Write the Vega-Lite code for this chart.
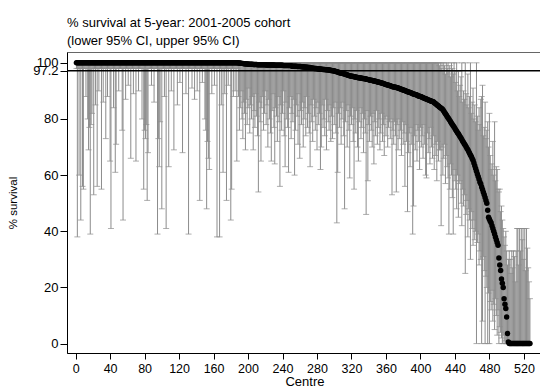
{
"$schema": "https://vega.github.io/schema/vega-lite/v6.json",
"width": 475, "height": 301,
"autosize": "none",
"padding": {"left": 67, "top": 52, "right": 0, "bottom": 35},
"background": "white",
"config": {"font": "Liberation Sans", "view": {"stroke": "#666666", "strokeWidth": 1},
  "axis": {"labelOverlap": false, "labelBound": false, "labelFlush": false, "labelSeparation": 0, "grid": false, "domainColor": "black", "tickColor": "black", "labelColor": "black", "titleColor": "black", "titleFontWeight": "normal"},
  "axisX": {"tickSize": 6, "labelFontSize": 12.5, "labelPadding": 3, "titleFontSize": 13, "titlePadding": 1},
  "axisY": {"tickSize": 7, "labelFontSize": 13, "labelPadding": 2, "titleFontSize": 11.5, "titlePadding": 14}},
"title": {"text": ["% survival at 5-year: 2001-2005 cohort", "(lower 95% CI, upper 95% CI)"], "anchor": "start", "frame": "group", "fontSize": 13, "fontWeight": "normal", "color": "black", "offset": 4, "lineHeight": 18},
"datasets": {
"ref": [{"v": 97.2}],
"centres": [
{"c":1,"e":100,"l":98,"u":100},{"c":2,"e":100,"l":38,"u":100},{"c":3,"e":100,"l":98,"u":100},{"c":4,"e":100,"l":60,"u":100},{"c":5,"e":100,"l":98,"u":100},{"c":6,"e":100,"l":44,"u":100},{"c":7,"e":100,"l":98,"u":100},{"c":8,"e":100,"l":56,"u":100},{"c":9,"e":100,"l":55,"u":100},{"c":10,"e":100,"l":98,"u":100},
{"c":11,"e":100,"l":98,"u":100},{"c":12,"e":100,"l":88,"u":100},{"c":13,"e":100,"l":98,"u":100},{"c":14,"e":100,"l":80,"u":100},{"c":15,"e":100,"l":69,"u":100},{"c":16,"e":100,"l":77,"u":100},{"c":17,"e":100,"l":39,"u":100},{"c":18,"e":100,"l":78,"u":100},{"c":19,"e":100,"l":82,"u":100},{"c":20,"e":100,"l":98,"u":100},
{"c":21,"e":100,"l":53,"u":100},{"c":22,"e":100,"l":98,"u":100},{"c":23,"e":100,"l":85,"u":100},{"c":24,"e":100,"l":98,"u":100},{"c":25,"e":100,"l":56,"u":100},{"c":26,"e":100,"l":98,"u":100},{"c":27,"e":100,"l":90,"u":100},{"c":28,"e":100,"l":98,"u":100},{"c":29,"e":100,"l":98,"u":100},{"c":30,"e":100,"l":55,"u":100},
{"c":31,"e":100,"l":98,"u":100},{"c":32,"e":100,"l":86,"u":100},{"c":33,"e":100,"l":98,"u":100},{"c":34,"e":100,"l":98,"u":100},{"c":35,"e":100,"l":73,"u":100},{"c":36,"e":100,"l":98,"u":100},{"c":37,"e":100,"l":88,"u":100},{"c":38,"e":100,"l":98,"u":100},{"c":39,"e":100,"l":98,"u":100},{"c":40,"e":100,"l":65,"u":100},
{"c":41,"e":100,"l":41,"u":100},{"c":42,"e":100,"l":98,"u":100},{"c":43,"e":100,"l":98,"u":100},{"c":44,"e":100,"l":84,"u":100},{"c":45,"e":100,"l":98,"u":100},{"c":46,"e":100,"l":61,"u":100},{"c":47,"e":100,"l":71,"u":100},{"c":48,"e":100,"l":98,"u":100},{"c":49,"e":100,"l":98,"u":100},{"c":50,"e":100,"l":90,"u":100},
{"c":51,"e":100,"l":98,"u":100},{"c":52,"e":100,"l":98,"u":100},{"c":53,"e":100,"l":98,"u":100},{"c":54,"e":100,"l":76,"u":100},{"c":55,"e":100,"l":44,"u":100},{"c":56,"e":100,"l":98,"u":100},{"c":57,"e":100,"l":98,"u":100},{"c":58,"e":100,"l":87,"u":100},{"c":59,"e":100,"l":98,"u":100},{"c":60,"e":100,"l":98,"u":100},
{"c":61,"e":100,"l":92,"u":100},{"c":62,"e":100,"l":98,"u":100},{"c":63,"e":100,"l":98,"u":100},{"c":64,"e":100,"l":66,"u":100},{"c":65,"e":100,"l":98,"u":100},{"c":66,"e":100,"l":98,"u":100},{"c":67,"e":100,"l":89,"u":100},{"c":68,"e":100,"l":98,"u":100},{"c":69,"e":100,"l":98,"u":100},{"c":70,"e":100,"l":65,"u":100},
{"c":71,"e":100,"l":98,"u":100},{"c":72,"e":100,"l":98,"u":100},{"c":73,"e":100,"l":90,"u":100},{"c":74,"e":100,"l":98,"u":100},{"c":75,"e":100,"l":98,"u":100},{"c":76,"e":100,"l":98,"u":100},{"c":77,"e":100,"l":80,"u":100},{"c":78,"e":100,"l":98,"u":100},{"c":79,"e":100,"l":55,"u":100},{"c":80,"e":100,"l":76,"u":100},
{"c":81,"e":100,"l":73,"u":100},{"c":82,"e":100,"l":78,"u":100},{"c":83,"e":100,"l":51,"u":100},{"c":84,"e":100,"l":68,"u":100},{"c":85,"e":100,"l":98,"u":100},{"c":86,"e":100,"l":98,"u":100},{"c":87,"e":100,"l":98,"u":100},{"c":88,"e":100,"l":92,"u":100},{"c":89,"e":100,"l":98,"u":100},{"c":90,"e":100,"l":98,"u":100},
{"c":91,"e":100,"l":86,"u":100},{"c":92,"e":100,"l":98,"u":100},{"c":93,"e":100,"l":98,"u":100},{"c":94,"e":100,"l":98,"u":100},{"c":95,"e":100,"l":39,"u":100},{"c":96,"e":100,"l":73,"u":100},{"c":97,"e":100,"l":63,"u":100},{"c":98,"e":100,"l":79,"u":100},{"c":99,"e":100,"l":98,"u":100},{"c":100,"e":100,"l":48,"u":100},
{"c":101,"e":100,"l":98,"u":100},{"c":102,"e":100,"l":98,"u":100},{"c":103,"e":100,"l":88,"u":100},{"c":104,"e":100,"l":98,"u":100},{"c":105,"e":100,"l":41,"u":100},{"c":106,"e":100,"l":98,"u":100},{"c":107,"e":100,"l":98,"u":100},{"c":108,"e":100,"l":63,"u":100},{"c":109,"e":100,"l":98,"u":100},{"c":110,"e":100,"l":98,"u":100},
{"c":111,"e":100,"l":90,"u":100},{"c":112,"e":100,"l":98,"u":100},{"c":113,"e":100,"l":98,"u":100},{"c":114,"e":100,"l":69,"u":100},{"c":115,"e":100,"l":98,"u":100},{"c":116,"e":100,"l":98,"u":100},{"c":117,"e":100,"l":98,"u":100},{"c":118,"e":100,"l":85,"u":100},{"c":119,"e":100,"l":98,"u":100},{"c":120,"e":100,"l":98,"u":100},
{"c":121,"e":100,"l":93,"u":100},{"c":122,"e":100,"l":98,"u":100},{"c":123,"e":100,"l":98,"u":100},{"c":124,"e":100,"l":68,"u":100},{"c":125,"e":100,"l":98,"u":100},{"c":126,"e":100,"l":98,"u":100},{"c":127,"e":100,"l":98,"u":100},{"c":128,"e":100,"l":89,"u":100},{"c":129,"e":100,"l":98,"u":100},{"c":130,"e":100,"l":98,"u":100},
{"c":131,"e":100,"l":39,"u":100},{"c":132,"e":100,"l":98,"u":100},{"c":133,"e":100,"l":98,"u":100},{"c":134,"e":100,"l":98,"u":100},{"c":135,"e":100,"l":91,"u":100},{"c":136,"e":100,"l":98,"u":100},{"c":137,"e":100,"l":98,"u":100},{"c":138,"e":100,"l":87,"u":100},{"c":139,"e":100,"l":98,"u":100},{"c":140,"e":100,"l":98,"u":100},
{"c":141,"e":100,"l":90,"u":100},{"c":142,"e":100,"l":98,"u":100},{"c":143,"e":100,"l":98,"u":100},{"c":144,"e":100,"l":51,"u":100},{"c":145,"e":100,"l":98,"u":100},{"c":146,"e":100,"l":98,"u":100},{"c":147,"e":100,"l":93,"u":100},{"c":148,"e":100,"l":98,"u":100},{"c":149,"e":100,"l":98,"u":100},{"c":150,"e":100,"l":80,"u":100},
{"c":151,"e":100,"l":76,"u":100},{"c":152,"e":100,"l":48,"u":100},{"c":153,"e":100,"l":72,"u":100},{"c":154,"e":100,"l":66,"u":100},{"c":155,"e":100,"l":62,"u":100},{"c":156,"e":100,"l":98,"u":100},{"c":157,"e":100,"l":98,"u":100},{"c":158,"e":100,"l":89,"u":100},{"c":159,"e":100,"l":98,"u":100},{"c":160,"e":100,"l":98,"u":100},
{"c":161,"e":100,"l":92,"u":100},{"c":162,"e":100,"l":98,"u":100},{"c":163,"e":100,"l":98,"u":100},{"c":164,"e":100,"l":38,"u":100},{"c":165,"e":100,"l":98,"u":100},{"c":166,"e":100,"l":98,"u":100},{"c":167,"e":100,"l":38,"u":100},{"c":168,"e":100,"l":98,"u":100},{"c":169,"e":100,"l":85,"u":100},{"c":170,"e":100,"l":98,"u":100},
{"c":171,"e":100,"l":61,"u":100},{"c":172,"e":100,"l":98,"u":100},{"c":173,"e":100,"l":89,"u":100},{"c":174,"e":100,"l":98,"u":100},{"c":175,"e":100,"l":51,"u":100},{"c":176,"e":100,"l":98,"u":100},{"c":177,"e":100,"l":92,"u":100},{"c":178,"e":100,"l":98,"u":100},{"c":179,"e":100,"l":98,"u":100},{"c":180,"e":100,"l":44,"u":100},
{"c":181,"e":100,"l":55,"u":100},{"c":182,"e":100,"l":98,"u":100},{"c":183,"e":100,"l":88,"u":100},{"c":184,"e":100,"l":98,"u":100},{"c":185,"e":100,"l":90,"u":100},{"c":186,"e":100,"l":98,"u":100},{"c":187,"e":100,"l":65,"u":100},{"c":188,"e":100,"l":98,"u":100},
{"c":189,"e":99.9,"l":88,"u":100},{"c":190,"e":99.9,"l":76,"u":100},{"c":191,"e":99.9,"l":84,"u":100},{"c":192,"e":99.8,"l":90,"u":100},{"c":193,"e":99.8,"l":80,"u":100},{"c":194,"e":99.8,"l":73,"u":100},{"c":195,"e":99.7,"l":86,"u":100},{"c":196,"e":99.7,"l":82,"u":100},{"c":197,"e":99.7,"l":69,"u":100},{"c":198,"e":99.6,"l":87,"u":100},{"c":199,"e":99.6,"l":78,"u":100},{"c":200,"e":99.6,"l":84,"u":100},
{"c":201,"e":99.5,"l":91,"u":100},{"c":202,"e":99.5,"l":75,"u":100},{"c":203,"e":99.5,"l":85,"u":100},{"c":204,"e":99.5,"l":80,"u":100},{"c":205,"e":99.5,"l":88,"u":100},{"c":206,"e":99.4,"l":69,"u":100},{"c":207,"e":99.4,"l":83,"u":100},{"c":208,"e":99.4,"l":77,"u":100},{"c":209,"e":99.4,"l":89,"u":100},{"c":210,"e":99.4,"l":81,"u":100},
{"c":211,"e":99.3,"l":74,"u":100},{"c":212,"e":99.3,"l":54,"u":100},{"c":213,"e":99.3,"l":86,"u":100},{"c":214,"e":99.3,"l":79,"u":100},{"c":215,"e":99.3,"l":65,"u":100},{"c":216,"e":99.3,"l":84,"u":100},{"c":217,"e":99.3,"l":88,"u":100},{"c":218,"e":99.3,"l":76,"u":100},{"c":219,"e":99.3,"l":82,"u":100},{"c":220,"e":99.3,"l":90,"u":100},
{"c":221,"e":99.2,"l":78,"u":100},{"c":222,"e":99.2,"l":85,"u":100},{"c":223,"e":99.2,"l":70,"u":100},{"c":224,"e":99.2,"l":87,"u":100},{"c":225,"e":99.2,"l":80,"u":100},{"c":226,"e":99.2,"l":75,"u":100},{"c":227,"e":99.2,"l":65,"u":100},{"c":228,"e":99.2,"l":83,"u":100},{"c":229,"e":99.2,"l":89,"u":100},{"c":230,"e":99.2,"l":77,"u":100},
{"c":231,"e":99.1,"l":64,"u":100},{"c":232,"e":99.1,"l":84,"u":100},{"c":233,"e":99.1,"l":81,"u":100},{"c":234,"e":99.1,"l":72,"u":100},{"c":235,"e":99.1,"l":88,"u":100},{"c":236,"e":99.1,"l":79,"u":100},{"c":237,"e":99.1,"l":56,"u":100},{"c":238,"e":99.1,"l":85,"u":100},{"c":239,"e":99.1,"l":76,"u":100},{"c":240,"e":99.1,"l":82,"u":100},
{"c":241,"e":99.0,"l":90,"u":100},{"c":242,"e":99.0,"l":74,"u":100},{"c":243,"e":99.0,"l":63,"u":100},{"c":244,"e":99.0,"l":86,"u":100},{"c":245,"e":99.0,"l":80,"u":100},{"c":246,"e":99.0,"l":77,"u":100},{"c":247,"e":99.0,"l":61,"u":100},{"c":248,"e":99.0,"l":84,"u":100},{"c":249,"e":99.0,"l":88,"u":100},{"c":250,"e":99.0,"l":73,"u":100},
{"c":251,"e":98.8,"l":82,"u":100},{"c":252,"e":98.8,"l":79,"u":100},{"c":253,"e":98.8,"l":87,"u":100},{"c":254,"e":98.8,"l":60,"u":100},{"c":255,"e":98.8,"l":76,"u":100},{"c":256,"e":98.8,"l":85,"u":100},{"c":257,"e":98.7,"l":81,"u":100},{"c":258,"e":98.7,"l":71,"u":100},{"c":259,"e":98.7,"l":89,"u":100},{"c":260,"e":98.7,"l":66,"u":100},
{"c":261,"e":98.7,"l":83,"u":100},{"c":262,"e":98.6,"l":78,"u":100},{"c":263,"e":98.6,"l":86,"u":100},{"c":264,"e":98.5,"l":70,"u":100},{"c":265,"e":98.5,"l":80,"u":100},{"c":266,"e":98.5,"l":84,"u":100},{"c":267,"e":98.4,"l":74,"u":100},{"c":268,"e":98.4,"l":88,"u":100},{"c":269,"e":98.4,"l":77,"u":100},{"c":270,"e":98.3,"l":82,"u":100},
{"c":271,"e":98.3,"l":75,"u":100},{"c":272,"e":98.3,"l":63,"u":100},{"c":273,"e":98.2,"l":85,"u":100},{"c":274,"e":98.2,"l":79,"u":100},{"c":275,"e":98.1,"l":72,"u":100},{"c":276,"e":98.1,"l":87,"u":100},{"c":277,"e":98.0,"l":81,"u":100},{"c":278,"e":98.0,"l":76,"u":100},{"c":279,"e":98.0,"l":84,"u":100},{"c":280,"e":97.9,"l":69,"u":100},
{"c":281,"e":97.9,"l":86,"u":100},{"c":282,"e":97.8,"l":78,"u":100},{"c":283,"e":97.8,"l":82,"u":100},{"c":284,"e":97.8,"l":62,"u":100},{"c":285,"e":97.7,"l":70,"u":100},{"c":286,"e":97.7,"l":85,"u":100},{"c":287,"e":97.6,"l":77,"u":100},{"c":288,"e":97.6,"l":80,"u":100},{"c":289,"e":97.6,"l":74,"u":100},{"c":290,"e":97.5,"l":87,"u":100},
{"c":291,"e":97.5,"l":69,"u":100},{"c":292,"e":97.5,"l":83,"u":100},{"c":293,"e":97.4,"l":79,"u":100},{"c":294,"e":97.4,"l":76,"u":100},{"c":295,"e":97.4,"l":85,"u":100},{"c":296,"e":97.3,"l":72,"u":100},{"c":297,"e":97.3,"l":81,"u":100},{"c":298,"e":97.2,"l":73,"u":100},{"c":299,"e":97.2,"l":84,"u":100},{"c":300,"e":97.1,"l":78,"u":100},
{"c":301,"e":97.0,"l":86,"u":100},{"c":302,"e":96.9,"l":75,"u":100},{"c":303,"e":96.8,"l":43,"u":100},{"c":304,"e":96.7,"l":61,"u":100},{"c":305,"e":96.6,"l":82,"u":100},{"c":306,"e":96.5,"l":77,"u":100},{"c":307,"e":96.4,"l":84,"u":100},{"c":308,"e":96.4,"l":71,"u":100},{"c":309,"e":96.3,"l":80,"u":100},{"c":310,"e":96.2,"l":86,"u":100},
{"c":311,"e":96.1,"l":74,"u":100},{"c":312,"e":96.0,"l":48,"u":100},{"c":313,"e":95.9,"l":79,"u":100},{"c":314,"e":95.8,"l":83,"u":100},{"c":315,"e":95.7,"l":70,"u":100},{"c":316,"e":95.6,"l":85,"u":100},{"c":317,"e":95.5,"l":76,"u":100},{"c":318,"e":95.4,"l":59,"u":100},{"c":319,"e":95.3,"l":81,"u":100},{"c":320,"e":95.2,"l":78,"u":100},
{"c":321,"e":95.2,"l":84,"u":100},{"c":322,"e":95.1,"l":72,"u":100},{"c":323,"e":95.0,"l":55,"u":100},{"c":324,"e":95.0,"l":80,"u":100},{"c":325,"e":94.9,"l":75,"u":100},{"c":326,"e":94.9,"l":83,"u":100},{"c":327,"e":94.8,"l":70,"u":100},{"c":328,"e":94.7,"l":65,"u":100},{"c":329,"e":94.7,"l":79,"u":100},{"c":330,"e":94.6,"l":84,"u":100},
{"c":331,"e":94.6,"l":73,"u":100},{"c":332,"e":94.5,"l":77,"u":100},{"c":333,"e":94.4,"l":82,"u":100},{"c":334,"e":94.4,"l":68,"u":100},{"c":335,"e":94.3,"l":80,"u":100},{"c":336,"e":94.3,"l":75,"u":100},{"c":337,"e":94.2,"l":46,"u":100},{"c":338,"e":94.1,"l":83,"u":100},{"c":339,"e":94.1,"l":58,"u":100},{"c":340,"e":94.0,"l":78,"u":100},
{"c":341,"e":93.9,"l":72,"u":100},{"c":342,"e":93.8,"l":81,"u":100},{"c":343,"e":93.8,"l":76,"u":100},{"c":344,"e":93.7,"l":70,"u":100},{"c":345,"e":93.6,"l":82,"u":100},{"c":346,"e":93.5,"l":64,"u":100},{"c":347,"e":93.5,"l":79,"u":100},{"c":348,"e":93.4,"l":74,"u":100},{"c":349,"e":93.3,"l":83,"u":100},{"c":350,"e":93.2,"l":71,"u":100},
{"c":351,"e":93.2,"l":77,"u":100},{"c":352,"e":93.1,"l":80,"u":100},{"c":353,"e":93.0,"l":69,"u":100},{"c":354,"e":92.9,"l":75,"u":100},{"c":355,"e":92.8,"l":82,"u":100},{"c":356,"e":92.7,"l":72,"u":100},{"c":357,"e":92.6,"l":78,"u":100},{"c":358,"e":92.5,"l":67,"u":100},{"c":359,"e":92.4,"l":80,"u":100},{"c":360,"e":92.3,"l":74,"u":100},
{"c":361,"e":92.2,"l":81,"u":100},{"c":362,"e":92.1,"l":70,"u":100},{"c":363,"e":92.0,"l":77,"u":100},{"c":364,"e":91.9,"l":79,"u":100},{"c":365,"e":91.8,"l":73,"u":100},{"c":366,"e":91.7,"l":80,"u":100},{"c":367,"e":91.6,"l":53,"u":100},{"c":368,"e":91.5,"l":76,"u":100},{"c":369,"e":91.4,"l":71,"u":100},{"c":370,"e":91.4,"l":79,"u":100},
{"c":371,"e":91.3,"l":74,"u":100},{"c":372,"e":91.2,"l":54,"u":100},{"c":373,"e":91.1,"l":78,"u":100},{"c":374,"e":91.0,"l":69,"u":100},{"c":375,"e":90.9,"l":80,"u":100},{"c":376,"e":90.8,"l":73,"u":100},{"c":377,"e":90.7,"l":76,"u":100},{"c":378,"e":90.6,"l":67,"u":100},{"c":379,"e":90.4,"l":79,"u":100},{"c":380,"e":90.3,"l":71,"u":100},
{"c":381,"e":90.2,"l":75,"u":100},{"c":382,"e":90.1,"l":56,"u":100},{"c":383,"e":90.0,"l":78,"u":100},{"c":384,"e":89.9,"l":72,"u":100},{"c":385,"e":89.7,"l":47,"u":100},{"c":386,"e":89.6,"l":68,"u":100},{"c":387,"e":89.5,"l":75,"u":100},{"c":388,"e":89.4,"l":63,"u":100},{"c":389,"e":89.3,"l":77,"u":100},{"c":390,"e":89.2,"l":71,"u":100},
{"c":391,"e":89.0,"l":39,"u":100},{"c":392,"e":88.9,"l":49,"u":100},{"c":393,"e":88.8,"l":74,"u":100},{"c":394,"e":88.7,"l":69,"u":100},{"c":395,"e":88.6,"l":78,"u":100},{"c":396,"e":88.5,"l":65,"u":100},{"c":397,"e":88.3,"l":76,"u":100},{"c":398,"e":88.2,"l":72,"u":100},{"c":399,"e":88.1,"l":62,"u":100},{"c":400,"e":88.0,"l":77,"u":100},
{"c":401,"e":87.9,"l":70,"u":100},{"c":402,"e":87.7,"l":74,"u":100},{"c":403,"e":87.6,"l":66,"u":100},{"c":404,"e":87.5,"l":78,"u":100},{"c":405,"e":87.3,"l":71,"u":100},{"c":406,"e":87.2,"l":60,"u":100},{"c":407,"e":87.1,"l":59,"u":100},{"c":408,"e":86.9,"l":75,"u":100},{"c":409,"e":86.8,"l":68,"u":100},{"c":410,"e":86.7,"l":73,"u":100},
{"c":411,"e":86.6,"l":64,"u":100},{"c":412,"e":86.4,"l":77,"u":100},{"c":413,"e":86.3,"l":70,"u":100},{"c":414,"e":86.2,"l":66,"u":100},{"c":415,"e":86.1,"l":74,"u":100},{"c":416,"e":85.8,"l":62,"u":100},{"c":417,"e":85.6,"l":71,"u":100},{"c":418,"e":85.3,"l":67,"u":100},{"c":419,"e":85.1,"l":58,"u":100},{"c":420,"e":84.8,"l":72,"u":100},
{"c":421,"e":84.6,"l":65,"u":100},{"c":422,"e":84.3,"l":69,"u":99},{"c":423,"e":84.1,"l":69,"u":100},{"c":424,"e":83.8,"l":42,"u":98},{"c":425,"e":83.6,"l":70,"u":100},{"c":426,"e":83.3,"l":60,"u":97},{"c":427,"e":82.8,"l":66,"u":100},{"c":428,"e":82.3,"l":71,"u":99},{"c":429,"e":81.9,"l":57,"u":96},{"c":430,"e":81.4,"l":67,"u":100},
{"c":431,"e":80.9,"l":63,"u":98},{"c":432,"e":80.4,"l":59,"u":100},{"c":433,"e":80.0,"l":39,"u":97},{"c":434,"e":79.5,"l":55,"u":99},{"c":435,"e":79.0,"l":64,"u":95},{"c":436,"e":78.5,"l":60,"u":100},{"c":437,"e":78.0,"l":52,"u":98},{"c":438,"e":77.6,"l":39,"u":96},{"c":439,"e":77.1,"l":62,"u":100},{"c":440,"e":76.6,"l":58,"u":97},
{"c":441,"e":76.1,"l":55,"u":93},{"c":442,"e":75.6,"l":48,"u":100},{"c":443,"e":75.1,"l":60,"u":90},{"c":444,"e":74.7,"l":45,"u":97},{"c":445,"e":74.2,"l":57,"u":88},{"c":446,"e":73.7,"l":58,"u":92},{"c":447,"e":73.2,"l":50,"u":95},{"c":448,"e":72.7,"l":42,"u":100},{"c":449,"e":72.1,"l":55,"u":86},{"c":450,"e":71.6,"l":49,"u":90},
{"c":451,"e":71.1,"l":53,"u":87},{"c":452,"e":70.6,"l":25,"u":100},{"c":453,"e":70.1,"l":46,"u":89},{"c":454,"e":69.5,"l":51,"u":85},{"c":455,"e":69.0,"l":38,"u":96},{"c":456,"e":68.4,"l":48,"u":84},{"c":457,"e":67.8,"l":44,"u":88},{"c":458,"e":67.2,"l":30,"u":100},{"c":459,"e":66.6,"l":47,"u":82},{"c":460,"e":65.9,"l":41,"u":86},
{"c":461,"e":65.3,"l":35,"u":91},{"c":462,"e":64.3,"l":44,"u":80},{"c":463,"e":63.3,"l":37,"u":85},{"c":464,"e":62.4,"l":40,"u":79},{"c":465,"e":61.4,"l":0,"u":100},{"c":466,"e":60.4,"l":36,"u":81},{"c":467,"e":59.5,"l":39,"u":76},{"c":468,"e":58.5,"l":28,"u":84},{"c":469,"e":57.5,"l":33,"u":78},{"c":470,"e":56.8,"l":30,"u":87},
{"c":471,"e":55.8,"l":0,"u":88},{"c":472,"e":54.9,"l":8,"u":92},{"c":473,"e":53.9,"l":31,"u":74},{"c":474,"e":53.0,"l":26,"u":77},{"c":475,"e":52.0,"l":0,"u":86},{"c":476,"e":51.0,"l":24,"u":73},{"c":477,"e":50.0,"l":20,"u":76},{"c":478,"e":47.5,"l":0,"u":79},{"c":479,"e":45.0,"l":18,"u":70},{"c":480,"e":44.3,"l":0,"u":82},
{"c":481,"e":43.6,"l":15,"u":67},{"c":482,"e":43.0,"l":12,"u":62},{"c":483,"e":42.0,"l":19,"u":64},{"c":484,"e":41.0,"l":8,"u":72},{"c":485,"e":40.0,"l":14,"u":60},{"c":486,"e":39.0,"l":5,"u":79},{"c":487,"e":38.0,"l":16,"u":58},{"c":488,"e":37.0,"l":10,"u":63},{"c":489,"e":36.0,"l":3,"u":62},{"c":490,"e":35.0,"l":12,"u":55},
{"c":491,"e":30.5,"l":0,"u":54},{"c":492,"e":28.0,"l":6,"u":55},{"c":493,"e":26.0,"l":4,"u":47},{"c":494,"e":23.0,"l":2,"u":49},{"c":495,"e":21.5,"l":0,"u":44},{"c":496,"e":20.0,"l":3,"u":41},{"c":497,"e":16.0,"l":0,"u":38},{"c":498,"e":14.0,"l":1,"u":35},{"c":499,"e":12.5,"l":0,"u":40},{"c":500,"e":9.5,"l":0,"u":33},
{"c":501,"e":3.6,"l":0,"u":28},{"c":502,"e":0.6,"l":0,"u":30},{"c":503,"e":0,"l":0,"u":33},{"c":504,"e":0,"l":0,"u":30},{"c":505,"e":0,"l":0,"u":25},{"c":506,"e":0,"l":0,"u":33},{"c":507,"e":0,"l":0,"u":27},{"c":508,"e":0,"l":0,"u":33},{"c":509,"e":0,"l":0,"u":31},{"c":510,"e":0,"l":0,"u":22},
{"c":511,"e":0,"l":0,"u":33},{"c":512,"e":0,"l":0,"u":41},{"c":513,"e":0,"l":0,"u":41},{"c":514,"e":0,"l":0,"u":28},{"c":515,"e":0,"l":0,"u":41},{"c":516,"e":0,"l":0,"u":33},{"c":517,"e":0,"l":0,"u":41},{"c":518,"e":0,"l":0,"u":37},{"c":519,"e":0,"l":0,"u":41},{"c":520,"e":0,"l":0,"u":30},
{"c":521,"e":0,"l":0,"u":41},{"c":522,"e":0,"l":0,"u":26},{"c":523,"e":0,"l":0,"u":41},{"c":524,"e":0,"l":0,"u":34},{"c":525,"e":0,"l":0,"u":27},{"c":526,"e":0,"l":0,"u":22},{"c":527,"e":0,"l":0,"u":16}
]
},
"data": {"name": "centres"},
"layer": [
{"mark": {"type": "rule", "color": "#8c8c8c", "strokeWidth": 1},
 "encoding": {
  "x": {"field": "c", "type": "quantitative", "scale": {"domain": [-10, 541], "nice": false, "zero": false},
   "axis": {"title": "Centre", "values": [0,40,80,120,160,200,240,280,320,360,400,440,480,520], "format": "d", "labelOverlap": false}},
  "y": {"field": "l", "type": "quantitative", "scale": {"domain": [-3.35, 103.85], "nice": false, "zero": false},
   "axis": {"title": "% survival", "values": [0,20,40,60,80,97.2,100], "format": ".1~f", "labelOverlap": false}},
  "y2": {"field": "u"}}},
{"mark": {"type": "tick", "orient": "horizontal", "color": "#8c8c8c", "size": 6, "thickness": 1},
 "encoding": {"x": {"field": "c", "type": "quantitative", "axis": {"title": "Centre", "values": [0,40,80,120,160,200,240,280,320,360,400,440,480,520], "format": "d", "labelOverlap": false}},
  "y": {"field": "l", "type": "quantitative", "axis": {"title": "% survival", "values": [0,20,40,60,80,97.2,100], "format": ".1~f", "labelOverlap": false}}}},
{"mark": {"type": "tick", "orient": "horizontal", "color": "#8c8c8c", "size": 6, "thickness": 1},
 "encoding": {"x": {"field": "c", "type": "quantitative", "axis": {"title": "Centre", "values": [0,40,80,120,160,200,240,280,320,360,400,440,480,520], "format": "d", "labelOverlap": false}},
  "y": {"field": "u", "type": "quantitative", "axis": {"title": "% survival", "values": [0,20,40,60,80,97.2,100], "format": ".1~f", "labelOverlap": false}}}},
{"data": {"name": "ref"}, "mark": {"type": "rule", "color": "black", "strokeWidth": 1.5},
 "encoding": {"y": {"field": "v", "type": "quantitative", "axis": {"title": "% survival", "values": [0,20,40,60,80,97.2,100], "format": ".1~f", "labelOverlap": false}}}},
{"mark": {"type": "circle", "color": "black", "opacity": 1, "size": 30},
 "encoding": {"x": {"field": "c", "type": "quantitative", "axis": {"title": "Centre", "values": [0,40,80,120,160,200,240,280,320,360,400,440,480,520], "format": "d", "labelOverlap": false}},
  "y": {"field": "e", "type": "quantitative", "axis": {"title": "% survival", "values": [0,20,40,60,80,97.2,100], "format": ".1~f", "labelOverlap": false}}}}
]
}
